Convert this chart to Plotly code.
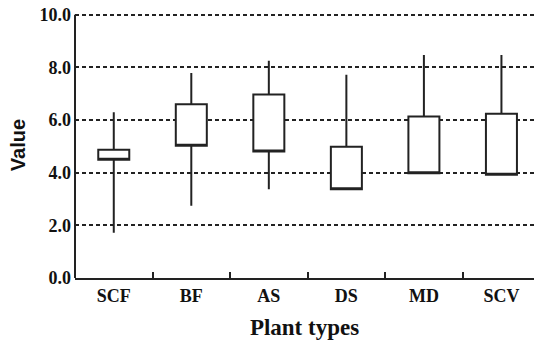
import plotly.graph_objects as go

categories = ["SCF", "BF", "AS", "DS", "MD", "SCV"]
lower_whisker = [1.72, 2.74, 3.37, 3.37, 3.98, 3.92]
q1_values = [4.49, 5.02, 4.80, 3.37, 3.98, 3.92]
q3_values = [4.87, 6.60, 6.97, 4.98, 6.13, 6.24]
upper_whisker = [6.29, 7.78, 8.25, 7.72, 8.47, 8.47]
y_ticks = [0, 2, 4, 6, 8, 10]
y_tick_labels = ["0.0", "2.0", "4.0", "6.0", "8.0", "10.0"]

fig = go.Figure()
fig.add_trace(go.Box(
    x=categories,
    q1=q1_values,
    median=q1_values,
    q3=q3_values,
    lowerfence=lower_whisker,
    upperfence=upper_whisker,
    width=0.4,
    whiskerwidth=0,
    fillcolor="white",
    line=dict(color="#222222", width=2),
    boxpoints=False,
    hoverinfo="skip",
    showlegend=False,
))

fig.update_layout(
    width=534, height=340,
    margin=dict(l=75, r=0, t=12, b=62),
    paper_bgcolor="white", plot_bgcolor="white",
    font=dict(family="Liberation Serif", color="#111111"),
)
fig.update_xaxes(
    type="category",
    range=[-0.5, 5.42],
    automargin=False,
    showline=True, linecolor="#222222", linewidth=2,
    ticks="inside", tickson="boundaries", ticklen=6, tickwidth=1.5, tickcolor="#222222",
    showgrid=False,
    tickfont=dict(family="Liberation Serif", size=18, color="#111111"),
    title=dict(text="<b>Plant types</b>", font=dict(family="Liberation Serif", size=23, color="#111111"), standoff=14),
    tickprefix="<b>", ticksuffix="</b>",
)
fig.update_yaxes(
    range=[0, 10.1],
    automargin=False,
    tickvals=y_ticks,
    ticktext=["<b>%s</b>" % t for t in y_tick_labels],
    ticklabeloverflow="allow",
    showline=False,
    ticks="", ticklabelstandoff=3,
    showgrid=True, gridcolor="#222222", gridwidth=2, griddash="4px,3px",
    zeroline=False,
    tickfont=dict(family="Liberation Serif", size=18, color="#111111"),
    title=dict(text="<b>Value</b>", font=dict(family="Liberation Sans", size=20, color="#111111"), standoff=8),
)
# y axis line spanning 0 to 10 only, as in the reference
fig.add_shape(type="line", xref="paper", yref="y", x0=0, x1=0, y0=0, y1=y_ticks[-1],
              line=dict(color="#222222", width=2))

fig.write_html("out.html", config={"displayModeBar": False},
               post_script="document.body.style.margin='0';")
